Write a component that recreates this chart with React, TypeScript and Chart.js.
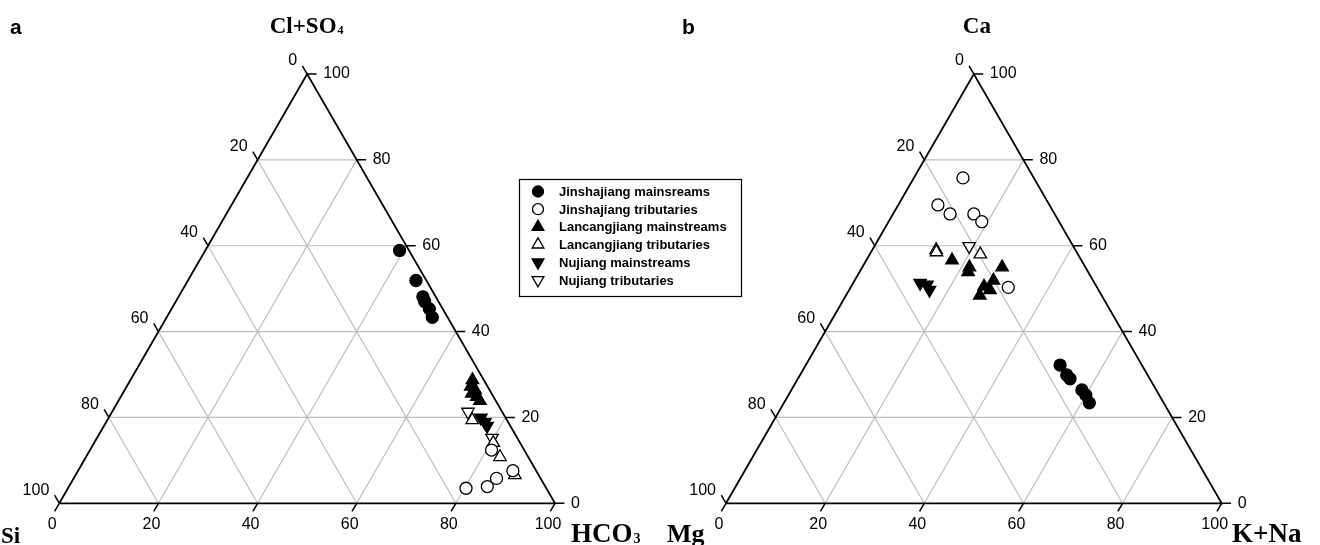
import React, { useEffect, useRef } from "react";
import { Chart, registerables } from "chart.js";

Chart.register(...registerables);

// ---------- data ----------
const TICKS = [0, 20, 40, 60, 80, 100];
const GRID = [20, 40, 60, 80];

const seriesNames = [
  "Jinshajiang mainsreams",
  "Jinshajiang tributaries",
  "Lancangjiang mainstreams",
  "Lancangjiang tributaries",
  "Nujiang mainstreams",
  "Nujiang tributaries",
];

// Panel a: [HCO3, Cl+SO4]  (Si = 100 - HCO3 - Cl+SO4)
const aJinMain = [[39.2, 58.9], [46.0, 51.9], [49.3, 48.1], [50.2, 47.0], [52.0, 45.3], [53.6, 43.3]];
const aJinTrib = [[81.0, 12.4], [80.3, 3.5], [84.4, 3.9], [85.3, 5.8], [87.7, 7.6]];
const aLanMain = [[69.0, 28.7], [69.4, 27.2], [70.7, 26.4], [70.4, 25.6], [71.8, 24.8], [72.9, 23.9]];
const aLanTrib = [[73.6, 19.4], [80.5, 14.1], [83.5, 10.8], [88.6, 6.6]];
const aNuMain = [[75.1, 19.9], [76.4, 18.9], [77.3, 18.0]];
const aNuTrib = [[71.8, 21.3], [79.7, 15.2]];

// Panel b: [K+Na, Ca]  (Mg = 100 - K+Na - Ca)
const bJinMain = [[51.3, 32.2], [53.8, 29.9], [54.9, 29.0], [58.6, 26.4], [60.0, 25.2], [61.6, 23.4]];
const bJinTrib = [[9.9, 75.8], [8.0, 69.5], [11.5, 67.4], [16.3, 67.4], [18.8, 65.6], [31.8, 50.3]];
const bLanMain = [[17.3, 56.6], [21.6, 55.0], [21.9, 53.9], [28.2, 55.0], [28.0, 51.9], [26.8, 50.5], [28.4, 49.7], [27.0, 48.4]];
const bLanTrib = [[12.9, 59.0], [13.2, 58.5], [22.3, 58.0]];
const bNuMain = [[13.5, 51.3], [15.1, 50.9], [16.2, 49.7]];
const bNuTrib = [[19.1, 59.9]];

// ---------- layout ----------
const W = 1320;
const H = 545;
const PX = 4.957; // px per unit
const XMIN = -59.3 / PX;
const XMAX = XMIN + W / PX;
const YMIN = -(H - 503.3) / PX;
const YMAX = YMIN + H / PX;
const OFF_B = (726 - 59.3) / PX;
const SQ3 = Math.sqrt(3) / 2;
const TL = 1.9;

function pt(bottom: number, top: number, off: number) {
  return { x: bottom + top / 2 + off, y: top * SQ3 };
}
const GAP = { x: NaN, y: NaN };

function gridData(off: number) {
  const d: any[] = [];
  for (const k of GRID) {
    d.push(pt(0, k, off), pt(100 - k, k, off), GAP);
    d.push(pt(k, 0, off), pt(k, 100 - k, off), GAP);
    d.push(pt(100 - k, 0, off), pt(0, 100 - k, off), GAP);
  }
  return d;
}
function outlineData(off: number) {
  return [pt(0, 0, off), pt(100, 0, off), pt(0, 100, off), pt(0, 0, off)];
}
function tickData(off: number) {
  const d: any[] = [];
  for (const v of TICKS) {
    const b = pt(v, 0, off);
    d.push(b, { x: b.x - 0.5 * TL, y: b.y - SQ3 * TL }, GAP);
    const r = pt(100 - v, v, off);
    d.push(r, { x: r.x + TL, y: r.y }, GAP);
    const l = pt(0, 100 - v, off);
    d.push(l, { x: l.x - 0.5 * TL, y: l.y + SQ3 * TL }, GAP);
  }
  return d;
}

const styles = [
  { pointStyle: "circle", rotation: 0, fill: "#000", r: 6 },
  { pointStyle: "circle", rotation: 0, fill: "#fff", r: 6 },
  { pointStyle: "triangle", rotation: 0, fill: "#000", r: 7.2 },
  { pointStyle: "triangle", rotation: 0, fill: "#fff", r: 7.2 },
  { pointStyle: "triangle", rotation: 180, fill: "#000", r: 7.2 },
  { pointStyle: "triangle", rotation: 180, fill: "#fff", r: 7.2 },
];

function pointSet(vals: number[][], idx: number, off: number) {
  const s = styles[idx];
  return {
    type: "scatter" as const,
    label: seriesNames[idx],
    data: vals.map((v) => pt(v[0], v[1], off)),
    pointStyle: s.pointStyle,
    rotation: s.rotation,
    pointRadius: s.r,
    backgroundColor: s.fill,
    borderColor: "#000",
    borderWidth: 1.3,
    showLine: false,
    order: 0,
  };
}
function lineSet(data: any[], color: string, width: number) {
  return {
    type: "scatter" as const,
    data,
    showLine: true,
    spanGaps: false,
    pointRadius: 0,
    borderColor: color,
    borderWidth: width,
    backgroundColor: color,
    order: 10,
  };
}

const SANS = "'Liberation Sans', Arial, sans-serif";
const SERIF = "'Liberation Serif', 'Times New Roman', serif";

function drawParts(ctx: CanvasRenderingContext2D, parts: { t: string; sub?: boolean }[], x: number, y: number, align: string, size = 22) {
  const main = `bold ${size}px ${SERIF}`;
  const sub = `bold ${Math.round(size * 0.52)}px ${SERIF}`;
  let total = 0;
  for (const p of parts) {
    ctx.font = p.sub ? sub : main;
    total += ctx.measureText(p.t).width;
  }
  let cx = align === "center" ? x - total / 2 : x;
  ctx.textAlign = "left";
  ctx.textBaseline = "alphabetic";
  for (const p of parts) {
    ctx.font = p.sub ? sub : main;
    ctx.fillText(p.t, cx + (p.sub ? 1 : 0), p.sub ? y + 1 : y);
    cx += ctx.measureText(p.t).width + (p.sub ? 1 : 0);
  }
}

const textPlugin = {
  id: "ternaryText",
  afterDraw(chart: any) {
    const ctx: CanvasRenderingContext2D = chart.ctx;
    const xs = chart.scales.x;
    const ys = chart.scales.y;
    const P = (p: { x: number; y: number }) => ({ x: xs.getPixelForValue(p.x), y: ys.getPixelForValue(p.y) });
    ctx.save();
    ctx.fillStyle = "#000";
    for (const off of [0, OFF_B]) {
      ctx.font = `16px ${SANS}`;
      for (const v of TICKS) {
        const b = P(pt(v, 0, off));
        ctx.textAlign = "center";
        ctx.textBaseline = "middle";
        ctx.fillText(String(v), b.x - 7, b.y + 21);
        const r = P(pt(100 - v, v, off));
        ctx.textAlign = "left";
        ctx.fillText(String(v), r.x + 16, r.y);
        const l = P(pt(0, 100 - v, off));
        ctx.textAlign = "right";
        ctx.fillText(String(v), l.x - 10, l.y - 13);
      }
    }
    const apexA = P(pt(0, 100, 0));
    const apexB = P(pt(0, 100, OFF_B));
    drawParts(ctx, [{ t: "Cl+SO" }, { t: "4", sub: true }], apexA.x - 1, 33, "center", 23);
    drawParts(ctx, [{ t: "Ca" }], apexB.x + 3, 33, "center", 23);
    drawParts(ctx, [{ t: "Si" }], 1, 543, "left", 23);
    drawParts(ctx, [{ t: "HCO" }, { t: "3", sub: true }], 571, 542, "left", 27);
    drawParts(ctx, [{ t: "Mg" }], 667, 542, "left", 26);
    drawParts(ctx, [{ t: "K+Na" }], 1232, 542, "left", 27);
    ctx.font = `bold 21px ${SANS}`;
    ctx.textAlign = "left";
    ctx.textBaseline = "alphabetic";
    ctx.fillText("a", 10, 34);
    ctx.fillText("b", 682, 34);

    // legend
    const lx = 519, ly = 179, lw = 222, lh = 117;
    ctx.lineWidth = 1.2;
    ctx.strokeStyle = "#000";
    ctx.strokeRect(lx + 0.5, ly + 0.5, lw, lh);
    ctx.font = `bold 13px ${SANS}`;
    ctx.textAlign = "left";
    ctx.textBaseline = "middle";
    seriesNames.forEach((name, i) => {
      const cy = 191.5 + i * 17.7;
      const s = styles[i];
      const cx = 538;
      ctx.beginPath();
      if (s.pointStyle === "circle") {
        ctx.arc(cx, cy, 5.5, 0, Math.PI * 2);
      } else {
        const rr = 6.8;
        let rad = (s.rotation * Math.PI) / 180;
        for (let k = 0; k < 3; k++) {
          const px = cx + Math.sin(rad) * rr;
          const py = cy - Math.cos(rad) * rr;
          if (k === 0) ctx.moveTo(px, py);
          else ctx.lineTo(px, py);
          rad += (2 * Math.PI) / 3;
        }
        ctx.closePath();
      }
      ctx.fillStyle = s.fill;
      ctx.fill();
      ctx.lineWidth = 1.3;
      ctx.stroke();
      ctx.fillStyle = "#000";
      ctx.fillText(name, 559, cy + 1);
    });
    ctx.restore();
  },
};

export default function App() {
  const ref = useRef<HTMLCanvasElement>(null);
  useEffect(() => {
    if (!ref.current) return;
    const chart = new Chart(ref.current, {
      type: "scatter",
      data: {
        datasets: [
          pointSet(aJinMain, 0, 0),
          pointSet(aJinTrib, 1, 0),
          pointSet(aLanMain, 2, 0),
          pointSet(aLanTrib, 3, 0),
          pointSet(aNuMain, 4, 0),
          pointSet(aNuTrib, 5, 0),
          pointSet(bJinMain, 0, OFF_B),
          pointSet(bJinTrib, 1, OFF_B),
          pointSet(bLanMain, 2, OFF_B),
          pointSet(bLanTrib, 3, OFF_B),
          pointSet(bNuMain, 4, OFF_B),
          pointSet(bNuTrib, 5, OFF_B),
          lineSet(outlineData(0), "#000", 1.8),
          lineSet(outlineData(OFF_B), "#000", 1.8),
          lineSet(tickData(0), "#000", 1.5),
          lineSet(tickData(OFF_B), "#000", 1.5),
          lineSet(gridData(0), "#bdbdbd", 1.2),
          lineSet(gridData(OFF_B), "#bdbdbd", 1.2),
        ] as any,
      },
      options: {
        animation: false,
        responsive: false,
        maintainAspectRatio: false,
        events: [],
        layout: { padding: 0, autoPadding: false },
        plugins: { legend: { display: false }, tooltip: { enabled: false } },
        scales: {
          x: { type: "linear", min: XMIN, max: XMAX, display: false },
          y: { type: "linear", min: YMIN, max: YMAX, display: false },
        },
      },
      plugins: [textPlugin],
    });
    return () => chart.destroy();
  }, []);
  return (
    <div style={{ position: "absolute", left: 0, top: 0, width: W, height: H, background: "#fff" }}>
      <canvas ref={ref} width={W} height={H} style={{ display: "block" }} />
    </div>
  );
}
